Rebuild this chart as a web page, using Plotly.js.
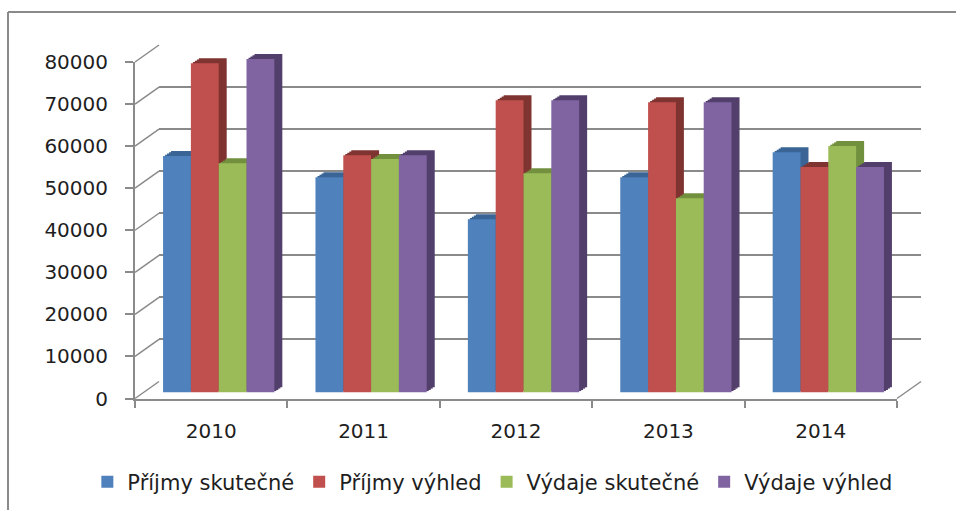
<!DOCTYPE html>
<html>
<head>
<meta charset="utf-8">
<script src="https://cdn.plot.ly/plotly-3.0.1.min.js"></script>
<style>html,body{margin:0;padding:0;background:#fff;}</style>
</head>
<body>
<div id="chart" style="width:956px;height:510px;"></div>
<script>
// ---- data ----
const years = ['2010', '2011', '2012', '2013', '2014'];
const seriesNames = ['Příjmy skutečné', 'Příjmy výhled', 'Výdaje skutečné', 'Výdaje výhled'];
const prijmySkutecne = [56200, 51200, 41200, 51200, 57100];
const prijmyVyhled   = [78300, 56400, 69500, 69000, 53600];
const vydajeSkutecne = [54500, 55500, 52100, 46200, 58600];
const vydajeVyhled   = [79300, 56400, 69500, 69000, 53600];
const yTicks = [0, 10000, 20000, 30000, 40000, 50000, 60000, 70000, 80000];

// ---- style ----
const W = 956, H = 510;
const faceColors = ['#4F81BD', '#C0504D', '#9BBB59', '#8064A2'];
const sideColors = ['#3A6596', '#7F3431', '#72903E', '#523F6B'];
const frameColor = '#8a8a8a';
const FX0 = 135, FX1 = 897, FY0 = 398.5, FY1 = 62; // front plane (px)
const BACK = [24, -17];   // back wall offset
const FACE = [7.5, -6];   // bar front face offset
const DEPTH_STEPS = 4, STEP = [2, -1.25];
const fontTick = {family: 'DejaVu Sans', size: 20, color: '#1e1e1e'};

const allSeries = [prijmySkutecne, prijmyVyhled, vydajeSkutecne, vydajeVyhled];

function dom(dx, dy) {
  return {
    x: [(FX0 + dx) / W, (FX1 + dx) / W],
    y: [(H - (FY0 + dy)) / H, (H - (FY1 + dy)) / H]
  };
}
const px = v => v / W, py = v => (H - v) / H;
const yScale = (FY0 - FY1) / 80000;

const layout = {
  width: W, height: H,
  margin: {l: 0, r: 0, t: 0, b: 0},
  paper_bgcolor: '#ffffff', plot_bgcolor: 'rgba(0,0,0,0)',
  barmode: 'group', bargap: 0.27, bargroupgap: 0,
  showlegend: true,
  legend: {
    orientation: 'h', x: 0.515, xanchor: 'center', y: py(482), yanchor: 'middle',
    font: {family: 'DejaVu Sans', size: 21, color: '#1e1e1e'},
    itemclick: false, itemdoubleclick: false, traceorder: 'normal'
  },
  shapes: [],
  hovermode: false
};

const hiddenAxis = {showgrid: false, zeroline: false, showline: false, showticklabels: false, ticks: '', fixedrange: true};

// subplot 1: back wall gridlines
let d = dom(BACK[0], BACK[1]);
layout.xaxis = Object.assign({}, hiddenAxis, {domain: d.x, type: 'category', range: [-0.5, 4.5], anchor: 'y'});
layout.yaxis = Object.assign({}, hiddenAxis, {domain: d.y, range: [0, 80000], anchor: 'x',
  showgrid: true, gridcolor: frameColor, gridwidth: 2, tickvals: yTicks});

const traces = [];
traces.push({type: 'scatter', x: [years[0]], y: [0], mode: 'markers', marker: {opacity: 0}, showlegend: false, xaxis: 'x', yaxis: 'y', hoverinfo: 'skip'});

// depth copies: subplots 2..(1+DEPTH_STEPS), farthest first
for (let k = 0; k < DEPTH_STEPS; k++) {
  const step = DEPTH_STEPS - k;
  const idx = k + 2;
  const dd = dom(FACE[0] + STEP[0] * step, FACE[1] + STEP[1] * step);
  layout['xaxis' + idx] = Object.assign({}, hiddenAxis, {domain: dd.x, type: 'category', range: [-0.5, 4.5], anchor: 'y' + idx});
  layout['yaxis' + idx] = Object.assign({}, hiddenAxis, {domain: dd.y, range: [0, 80000], anchor: 'x' + idx});
  allSeries.forEach((s, i) => {
    traces.push({type: 'bar', x: years, y: s, name: seriesNames[i], showlegend: false,
      marker: {color: sideColors[i], line: {width: 0}}, xaxis: 'x' + idx, yaxis: 'y' + idx, hoverinfo: 'skip'});
  });
}

// front faces
const fIdx = DEPTH_STEPS + 2;
const fd = dom(FACE[0], FACE[1]);
layout['xaxis' + fIdx] = Object.assign({}, hiddenAxis, {domain: fd.x, type: 'category', range: [-0.5, 4.5], anchor: 'y' + fIdx});
layout['yaxis' + fIdx] = Object.assign({}, hiddenAxis, {domain: fd.y, range: [0, 80000], anchor: 'x' + fIdx});
allSeries.forEach((s, i) => {
  traces.push({type: 'bar', x: years, y: s, name: seriesNames[i], showlegend: true,
    marker: {color: faceColors[i], line: {width: 0}}, xaxis: 'x' + fIdx, yaxis: 'y' + fIdx, hoverinfo: 'skip'});
});

// front axes (ticks + labels)
const aIdx = fIdx + 1;
const ad = dom(0, 0);
layout['xaxis' + aIdx] = {domain: ad.x, type: 'category', range: [-0.5, 4.5], anchor: 'y' + aIdx,
  showgrid: false, zeroline: false, showline: true, linecolor: frameColor, linewidth: 2,
  ticks: 'outside', tickson: 'boundaries', ticklen: 7, tickwidth: 2, tickcolor: frameColor,
  tickfont: fontTick, ticklabelstandoff: 13, fixedrange: true};
layout['yaxis' + aIdx] = {domain: ad.y, range: [0, 80000], anchor: 'x' + aIdx,
  showgrid: false, zeroline: false, showline: true, linecolor: frameColor, linewidth: 2,
  ticks: 'outside', ticklen: 8, tickwidth: 2, tickcolor: frameColor, tickvals: yTicks,
  tickformat: 'd', tickfont: fontTick, ticklabelstandoff: 13, fixedrange: true};
traces.push({type: 'scatter', x: years, y: [0, 0, 0, 0, 0], mode: 'markers', marker: {opacity: 0},
  showlegend: false, xaxis: 'x' + aIdx, yaxis: 'y' + aIdx, hoverinfo: 'skip'});

// 3D frame connectors (from each front tick to back wall)
yTicks.forEach(v => {
  const yf = FY0 - v * yScale;
  layout.shapes.push({type: 'line', xref: 'paper', yref: 'paper', layer: 'below',
    x0: px(FX0), y0: py(yf), x1: px(FX0 + BACK[0]), y1: py(yf + BACK[1]),
    line: {color: frameColor, width: 1.5}});
});
layout.shapes.push({type: 'line', xref: 'paper', yref: 'paper', layer: 'below',
  x0: px(FX1), y0: py(FY0), x1: px(FX1 + BACK[0]), y1: py(FY0 + BACK[1]),
  line: {color: frameColor, width: 1.5}});
// chart border (left and top visible)
layout.shapes.push({type: 'line', xref: 'paper', yref: 'paper', x0: px(8), y0: py(12), x1: px(8), y1: 0, line: {color: frameColor, width: 2}});
layout.shapes.push({type: 'line', xref: 'paper', yref: 'paper', x0: px(8), y0: py(12), x1: 1, y1: py(12), line: {color: frameColor, width: 2}});

Plotly.newPlot('chart', traces, layout, {staticPlot: true, displayModeBar: false});
</script>
</body>
</html>
